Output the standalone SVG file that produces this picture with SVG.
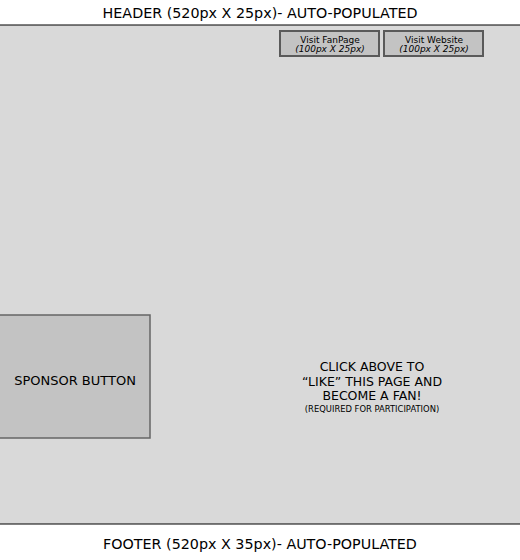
<svg xmlns="http://www.w3.org/2000/svg" width="520" height="560" viewBox="0 0 520 560">
<style>
text{font-family:"DejaVu Sans","Verdana",sans-serif;fill:#000;text-anchor:middle}
.btn{fill:#c3c3c3;stroke:#5a5a5a;stroke-width:2}
.lbl{font-size:14.3px}
.b{font-size:9px}
.bi{font-size:9px;font-style:italic}
</style>
<rect x="0" y="0" width="520" height="560" fill="#fff"/>
<g id="canvas">
<rect x="0" y="25" width="520" height="499" fill="#d9d9d9"/>
<line x1="0" y1="25" x2="520" y2="25" stroke="#000" stroke-width="1.2"/>
<line x1="0" y1="524" x2="520" y2="524" stroke="#000" stroke-width="1.2"/>
</g>
<g id="header"><text class="lbl" x="260" y="17.5">HEADER (520px X 25px)- AUTO-POPULATED</text></g>
<g id="footer"><text class="lbl" x="260" y="548.5">FOOTER (520px X 35px)- AUTO-POPULATED</text></g>
<g id="fanpage">
<rect class="btn" x="280" y="31" width="99" height="25"/>
<text class="b" x="330" y="42.5">Visit FanPage</text>
<text class="bi" x="330" y="52">(100px X 25px)</text>
</g>
<g id="website">
<rect class="btn" x="384" y="31" width="99" height="25"/>
<text class="b" x="434" y="42.5">Visit Website</text>
<text class="bi" x="434" y="52">(100px X 25px)</text>
</g>
<g id="sponsor">
<rect x="-2" y="315" width="152" height="123" fill="#c3c3c3" stroke="#666" stroke-width="1.5"/>
<text x="75" y="385" font-size="13">SPONSOR BUTTON</text>
</g>
<g id="cta">
<text x="372" y="371" font-size="12.5">CLICK ABOVE TO</text>
<text x="372" y="386" font-size="12.5">“LIKE” THIS PAGE AND</text>
<text x="372" y="400" font-size="12.5">BECOME A FAN!</text>
<text x="372" y="412" font-size="8.4">(REQUIRED FOR PARTICIPATION)</text>
</g>
<g id="connectors"/>
</svg>
